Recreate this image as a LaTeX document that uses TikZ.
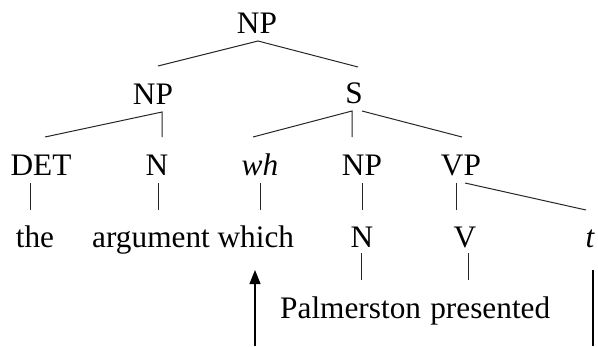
\documentclass[tikz,border=0pt]{standalone}
\usepackage{fontspec}
\setmainfont{Liberation Serif}
\usetikzlibrary{arrows.meta}
\begin{document}
\begin{tikzpicture}[x=1pt,y=-1pt,
  lab/.style={inner sep=0pt,anchor=base,font=\fontsize{31.3}{36}\selectfont},
  edge/.style={line width=1pt,draw=black!85},
  move/.style={line width=1.2pt,draw=black,-{Triangle[width=11pt,length=14pt]}}]
\useasboundingbox (0,0) rectangle (598,346);
% labels
\node[lab] (NP0) at (257,33) {NP};
\node[lab] (NP1) at (153,104) {NP};
\node[lab] (S) at (354,103) {S};
\node[lab] (DET) at (41,175) {DET};
\node[lab] (N1) at (157,175) {N};
\node[lab] (wh) at (260,175) {\itshape wh};
\node[lab] (NP2) at (362,175) {NP};
\node[lab] (VP) at (461,175) {VP};
\node[lab] (the) at (35,247) {the};
\node[lab,anchor=base west] (argw) at (92,247) {argument which};
\node[lab] (N2) at (362,247) {N};
\node[lab] (V) at (465,247) {V};
\node[lab] (t) at (590,247) {\itshape t};
\node[lab,anchor=base west] (pal) at (280,318) {Palmerston\hspace{1.5pt} presented};
% connector points
\coordinate (a0) at (258,41);
\coordinate (a0l) at (158,66);
\coordinate (a0r) at (358,67);
\coordinate (a1) at (162,112);
\coordinate (a1l) at (45,137);
\coordinate (a1d) at (162,137);
\coordinate (a2) at (352,111);
\coordinate (a2l) at (253,137);
\coordinate (a2d) at (352,137);
\coordinate (a2s) at (362,111);
\coordinate (a2r) at (462,137);
\coordinate (vp0) at (465,183);
\coordinate (vp1) at (586,210);
\coordinate (arr0) at (255,346);
\coordinate (arr1) at (255,270);
\coordinate (tr0) at (593,270);
\coordinate (tr1) at (593,346);
% tree edges
\draw[edge] (a0l) -- (a0) -- (a0r);
\draw[edge] (a1l) -- (a1) -- (a1d);
\draw[edge] (a2l) -- (a2) -- (a2d);
\draw[edge] (a2s) -- (a2r);
\draw[edge] (30,183) -- (30,210);
\draw[edge] (158,183) -- (158,210);
\draw[edge] (260,183) -- (260,210);
\draw[edge] (362,183) -- (362,210);
\draw[edge] (456,183) -- (456,210);
\draw[edge] (vp0) -- (vp1);
\draw[edge] (361,253) -- (361,280);
\draw[edge] (468,253) -- (468,280);
% movement
\draw[move] (arr0) -- (arr1);
\draw[line width=1.2pt] (tr0) -- (tr1);
\end{tikzpicture}
\end{document}
